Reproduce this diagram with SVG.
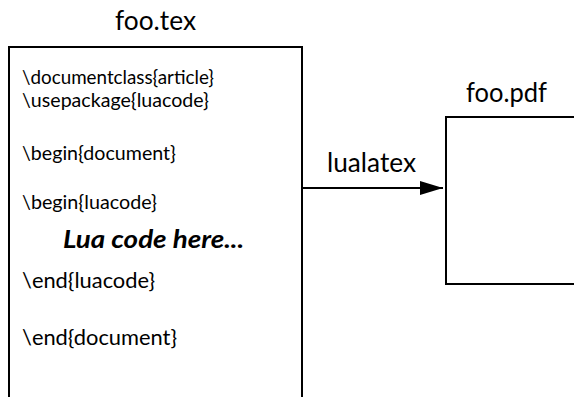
<svg xmlns="http://www.w3.org/2000/svg" width="574" height="397" viewBox="0 0 574 397">
<style>
  .box { fill: #ffffff; stroke: #000000; stroke-width: 2; }
  .t { font-family: Lato, "Open Sans", "Liberation Sans", sans-serif; fill: #000000; }
  .code { font-size: 19px; }
  .end { font-size: 21px; }
  .title { font-size: 27px; }
  .lua { font-size: 24px; font-weight: bold; font-style: italic; }
  .conn { stroke: #000000; stroke-width: 2; fill: none; }
</style>
<defs>
  <marker id="arrow" markerUnits="userSpaceOnUse" markerWidth="24" markerHeight="16" refX="23" refY="7" orient="auto">
    <path d="M0,0 L23,7 L0,14 Z" fill="#000000"/>
  </marker>
</defs>
<rect width="574" height="397" fill="#ffffff"/>
<g id="foo-tex">
  <rect class="box" x="9" y="47" width="293" height="360"/>
  <text class="t title" x="115" y="30" textLength="81" lengthAdjust="spacingAndGlyphs">foo.tex</text>
  <text class="t code" x="22" y="84" textLength="192" lengthAdjust="spacingAndGlyphs">\documentclass{article}</text>
  <text class="t code" x="22" y="107" textLength="187" lengthAdjust="spacingAndGlyphs">\usepackage{luacode}</text>
  <text class="t code" x="22" y="160" textLength="154" lengthAdjust="spacingAndGlyphs">\begin{document}</text>
  <text class="t code" x="22" y="209" textLength="135" lengthAdjust="spacingAndGlyphs">\begin{luacode}</text>
  <text class="t lua" x="63" y="248" textLength="181" lengthAdjust="spacingAndGlyphs">Lua code here...</text>
  <text class="t end" x="22" y="288" textLength="133" lengthAdjust="spacingAndGlyphs">\end{luacode}</text>
  <text class="t end" x="22" y="345" textLength="155" lengthAdjust="spacingAndGlyphs">\end{document}</text>
</g>
<g id="foo-pdf">
  <rect class="box" x="446" y="117" width="140" height="167"/>
  <text class="t title" x="466" y="102" textLength="81" lengthAdjust="spacingAndGlyphs">foo.pdf</text>
</g>
<g id="connectors">
  <line class="conn" x1="302" y1="188" x2="443" y2="188" marker-end="url(#arrow)"/>
  <text class="t title" x="327" y="172" textLength="89" lengthAdjust="spacingAndGlyphs">lualatex</text>
</g>
</svg>
